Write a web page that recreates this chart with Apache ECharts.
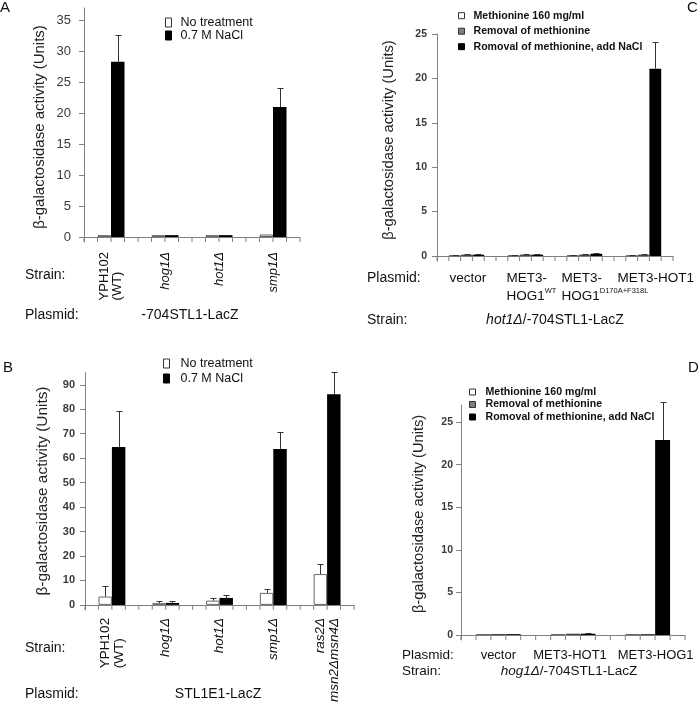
<!DOCTYPE html>
<html>
<head>
<meta charset="utf-8">
<title>beta-galactosidase activity</title>
<script src="https://cdn.jsdelivr.net/npm/echarts@6/dist/echarts.min.js"></script>
<style>
  body { margin: 0; background: #fff; }
  #main { width: 700px; height: 705px; }
</style>
</head>
<body>
<div id="main"></div>
<script>
// ---- values ----
var strainsA = ['YPH102\n(WT)', 'hog1Δ', 'hot1Δ', 'smp1Δ'];
var noTreatA = [0.3, 0.3, 0.3, 0.4];
var naclA = [28.3, 0.3, 0.3, 21.0];
var naclErrA = [4.4, 0, 0, 3.15];
var ticksA = [0, 5, 10, 15, 20, 25, 30, 35];

var strainsB = ['YPH102\n(WT)', 'hog1Δ', 'hot1Δ', 'smp1Δ', 'ras2Δ\nmsn2Δmsn4Δ'];
var noTreatB = [3.4, 0.7, 1.75, 4.9, 12.6];
var noTreatErrB = [4.2, 0.8, 0.95, 1.6, 4.1];
var naclB = [64.6, 0.8, 2.85, 63.8, 86.1];
var naclErrB = [14.5, 0.9, 1.25, 7.1, 9.0];
var ticksB = [0, 10, 20, 30, 40, 50, 60, 70, 80, 90];

var plasmidsC = ['vector', 'MET3-\nHOG1{sup|WT}', 'MET3-\nHOG1{sup|D170A+F318L}', 'MET3-HOT1'];
var metC = [0.05, 0.05, 0.05, 0.03];
var metErrC = [0.08, 0.08, 0.08, 0.05];
var removalC = [0.15, 0.15, 0.15, 0.15];
var removalErrC = [0.05, 0.05, 0.05, 0.05];
var naclC = [0.15, 0.15, 0.25, 21.1];
var naclErrC = [0.05, 0.05, 0.08, 3.0];
var ticksC = [0, 5, 10, 15, 20, 25];

var plasmidsD = ['vector', 'MET3-HOT1', 'MET3-HOG1'];
var metD = [0.1, 0.1, 0.1];
var removalD = [0.1, 0.15, 0.1];
var naclD = [0.1, 0.15, 22.9];
var naclErrD = [0, 0.05, 4.5];
var ticksD = [0, 5, 10, 15, 20, 25];

var FONT = 'Liberation Sans, Arial, Helvetica, sans-serif';
var AXIS = '#808080';
var TICK_LEN = 5;

var whiteBar = { color: '#fff', borderColor: '#666', borderWidth: 1 };
var grayBar = { color: '#7f7f7f', borderColor: '#444', borderWidth: 1 };
var blackBar = { color: '#000' };

var grids = [], xAxes = [], yAxes = [], series = [];

function renderErr(params, api) {
  var p0 = api.coord([api.value(0), api.value(1)]);
  var p1 = api.coord([api.value(0), api.value(1) + api.value(2)]);
  var x = Math.round(p0[0]) + 0.5, y1 = Math.round(p1[1]) + 0.5;
  var st = { stroke: '#333', lineWidth: 1 };
  return { type: 'group', children: [
    { type: 'line', shape: { x1: x, y1: p0[1], x2: x, y2: y1 }, style: st },
    { type: 'line', shape: { x1: x - 3, y1: y1, x2: x + 3, y2: y1 }, style: st }
  ] };
}

// gene deletions are set in italics
function strainFmt(name) {
  return name.split('\n').map(function (l) {
    return l.indexOf('Δ') >= 0 ? '{i|' + l + '}' : '{n|' + l + '}';
  }).join('\n');
}

function addPanel(p, k) {
  var n = p.groups.length * p.per;
  // plot area reaches TICK_LEN px under zero; x ticks are thin bars from 0 down to that floor
  var floor = -TICK_LEN * p.max / p.grid.height;
  var g = { left: p.grid.left, top: p.grid.top, width: p.grid.width, height: p.grid.height + TICK_LEN };
  var slots = [], edges = [], tickVals = [];
  for (var i = 0; i < n; i++) slots.push('s' + i);
  for (var j = 0; j <= n; j++) { edges.push('e' + j); tickVals.push(floor); }
  grids.push(g);
  // slot axis: one band per bar position
  xAxes.push({
    type: 'category', gridIndex: k, data: slots, boundaryGap: true, position: 'bottom',
    axisLine: { show: true, onZero: true, lineStyle: { color: AXIS } },
    axisTick: { show: false }, axisLabel: { show: false }
  });
  // group axis: only the labels
  xAxes.push({
    type: 'category', gridIndex: k, data: p.groups, position: 'bottom',
    axisLine: { show: false, onZero: true }, axisTick: { show: false }, axisLabel: p.label
  });
  // edge axis: one point per slot boundary, carries the tick bars
  xAxes.push({
    type: 'category', gridIndex: k, data: edges, boundaryGap: false, position: 'bottom',
    axisLine: { show: false }, axisTick: { show: false }, axisLabel: { show: false }
  });
  yAxes.push({
    type: 'value', gridIndex: k, min: floor, max: p.max,
    splitLine: { show: false },
    axisLine: { show: true, lineStyle: { color: AXIS } },
    axisTick: { show: true, length: 5, customValues: p.ticks, lineStyle: { color: AXIS } },
    axisLabel: {
      customValues: p.ticks, margin: p.ym, fontSize: p.yfs,
      fontWeight: p.ybold ? 'bold' : 'normal', color: '#3a3a3a', fontFamily: FONT
    }
  });
  series.push({
    type: 'bar', xAxisIndex: 3 * k + 2, yAxisIndex: k, data: tickVals,
    barWidth: 1, itemStyle: { color: AXIS }, silent: true, z: 5
  });
  p.sets.forEach(function (s, c) {
    var d = [], e = [];
    for (var i = 0; i < n; i++) d.push('-');
    s.values.forEach(function (v, gi) {
      var slot = gi * p.per + 1 + c;
      d[slot] = v;
      if (s.errors && s.errors[gi] > 0) e.push([slot, v, s.errors[gi]]);
    });
    series.push({
      type: 'bar', name: s.name, xAxisIndex: 3 * k, yAxisIndex: k, data: d,
      barWidth: '100%', barGap: '-100%', itemStyle: s.style, silent: true
    });
    if (e.length) {
      series.push({
        type: 'custom', xAxisIndex: 3 * k, yAxisIndex: k, data: e, clip: false,
        encode: { x: 0, y: 1 }, renderItem: renderErr, z: 3, silent: true
      });
    }
  });
}

var rotLabel = function (margin, fs, lh) {
  return {
    rotate: 90, margin: margin, interval: 0, color: '#111', fontFamily: FONT,
    formatter: strainFmt,
    rich: {
      n: { fontSize: fs, lineHeight: lh, fontFamily: FONT, color: '#111', align: 'left' },
      i: { fontSize: fs, lineHeight: lh, fontFamily: FONT, color: '#111', fontStyle: 'italic' }
    }
  };
};

addPanel({
  grid: { left: 84, top: 8, width: 216, height: 229 }, max: 37, ticks: ticksA,
  groups: strainsA, per: 4, ym: 13, yfs: 13, label: rotLabel(10, 13, 12.5),
  sets: [
    { name: 'No treatment', values: noTreatA, style: whiteBar },
    { name: '0.7 M NaCl', values: naclA, errors: naclErrA, style: blackBar }
  ]
}, 0);

addPanel({
  grid: { left: 85, top: 372.6, width: 269, height: 233.4 }, max: 95, ticks: ticksB,
  groups: strainsB, per: 4, ym: 10, yfs: 11, ybold: true, label: rotLabel(8, 13.5, 14),
  sets: [
    { name: 'No treatment', values: noTreatB, errors: noTreatErrB, style: whiteBar },
    { name: '0.7 M NaCl', values: naclB, errors: naclErrB, style: blackBar }
  ]
}, 1);

addPanel({
  grid: { left: 437, top: 34, width: 236, height: 222 }, max: 25, ticks: ticksC,
  groups: plasmidsC, per: 5, ym: 10, yfs: 10.5, ybold: true, label: { show: false },
  sets: [
    { name: 'Methionine 160 mg/ml', values: metC, errors: metErrC, style: whiteBar },
    { name: 'Removal of methionine', values: removalC, errors: removalErrC, style: grayBar },
    { name: 'Romoval of methionine, add NaCl', values: naclC, errors: naclErrC, style: blackBar }
  ]
}, 2);

addPanel({
  grid: { left: 461, top: 405, width: 224, height: 230 }, max: 27, ticks: ticksD,
  groups: plasmidsD, per: 5, ym: 8, yfs: 10.5, ybold: true, label: { show: false },
  sets: [
    { name: 'Methionine 160 mg/ml', values: metD, style: whiteBar },
    { name: 'Removal of methionine', values: removalD, style: grayBar },
    { name: 'Romoval of methionine, add NaCl', values: naclD, errors: naclErrD, style: blackBar }
  ]
}, 3);

function legendOf(names, styles, left, top, gap, iw, ih, fs, bold, pad) {
  return {
    orient: 'vertical', left: left, top: top, itemGap: gap, itemWidth: iw, itemHeight: ih,
    icon: 'rect', selectedMode: false, padding: 0,
    textStyle: { fontSize: fs, lineHeight: 12, fontWeight: bold ? 'bold' : 'normal',
      color: '#111', fontFamily: FONT, padding: [0, 0, 0, pad] },
    data: names.map(function (nm, i) { return { name: nm, itemStyle: styles[i] }; })
  };
}
var namesAB = ['No treatment', '0.7 M NaCl'];
var namesCD = ['Methionine 160 mg/ml', 'Removal of methionine', 'Romoval of methionine, add NaCl'];
var legWhite = { color: '#fff', borderColor: '#333', borderWidth: 1 };
var legGray = { color: '#7f7f7f', borderColor: '#333', borderWidth: 1 };
var legBlack = { color: '#000', borderColor: '#000', borderWidth: 1 };

var chart = echarts.init(document.getElementById('main'));
chart.setOption({
  animation: false,
  backgroundColor: '#fff',
  textStyle: { fontFamily: FONT },
  grid: grids, xAxis: xAxes, yAxis: yAxes, series: series,
  legend: [
    legendOf(namesAB, [legWhite, legBlack], 165, 16, 0, 6, 9, 12.5, false, 4),
    legendOf(namesAB, [legWhite, legBlack], 163, 357, 2, 6, 9, 12.5, false, 6),
    legendOf(namesCD, [legWhite, legGray, legBlack], 458, 9.7, 3.5, 6, 6, 10.6, true, 4),
    legendOf(namesCD, [legWhite, legGray, legBlack], 469, 386, 0.5, 6, 6, 10.6, true, 5)
  ]
});

// ---- free text: titles, panel letters, construct notes ----
function txt(x, y, s, o) {
  var style = { text: s, fontFamily: FONT, fontSize: 14, fill: '#111', align: 'left', verticalAlign: 'middle' };
  for (var key in o) style[key] = o[key];
  return { type: 'text', x: x, y: y, style: style, silent: true };
}
function ytitle(x, y, fs) {
  var t = txt(x, y, 'β-galactosidase activity (Units)', { align: 'center', fontSize: fs, fill: '#222' });
  t.rotation = Math.PI / 2;
  return t;
}

var shiftC = [-17, -19, -23, -26];
var shiftD = [0, -3, 8];
var gfx = [
  txt(0, 8, 'A', { fontSize: 15 }), txt(3, 368, 'B', { fontSize: 15 }),
  txt(687, 8, 'C', { fontSize: 15 }), txt(688, 368, 'D', { fontSize: 15 }),
  ytitle(40, 127, 15), ytitle(42.5, 491, 15.4), ytitle(388.5, 140, 14.7), ytitle(419, 514, 14.6),
  txt(25, 275, 'Strain:'), txt(25, 315, 'Plasmid:'),
  txt(190, 315, '-704STL1-LacZ', { align: 'center' }),
  txt(25, 648, 'Strain:'), txt(25, 694, 'Plasmid:'),
  txt(218, 694, 'STL1E1-LacZ', { align: 'center' }),
  txt(367, 278, 'Plasmid:'), txt(367, 320, 'Strain:'),
  txt(555, 320, '{i|hot1Δ}/-704STL1-LacZ', { align: 'center',
    rich: { i: { fontStyle: 'italic', fontSize: 14, fontFamily: FONT, fill: '#111' } } }),
  txt(402, 655, 'Plasmid:', { fontSize: 13.5 }), txt(402, 671, 'Strain:', { fontSize: 13.5 }),
  txt(569, 671, '{i|hog1Δ}/-704STL1-LacZ', { align: 'center', fontSize: 13.5,
    rich: { i: { fontStyle: 'italic', fontSize: 13.5, fontFamily: FONT, fill: '#111' } } })
];
plasmidsC.forEach(function (lab, g) {
  var cx = chart.convertToPixel({ xAxisIndex: 7 }, g);
  gfx.push(txt(cx + shiftC[g], 269, lab, {
    verticalAlign: 'top', fontSize: 13.5, lineHeight: 18,
    rich: { sup: { fontSize: 7.5, fontFamily: FONT, fill: '#111', verticalAlign: 'top', lineHeight: 18 } }
  }));
});
plasmidsD.forEach(function (lab, g) {
  var cx = chart.convertToPixel({ xAxisIndex: 10 }, g);
  gfx.push(txt(cx + shiftD[g], 655, lab, { align: 'center', fontSize: 13 }));
});
chart.setOption({ graphic: gfx });
</script>
</body>
</html>
